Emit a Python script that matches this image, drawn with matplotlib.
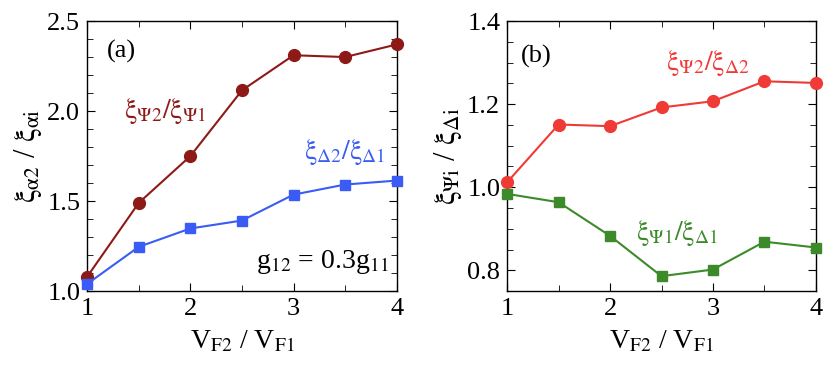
import matplotlib
matplotlib.use("Agg")
import matplotlib.pyplot as plt
from matplotlib.ticker import MultipleLocator, FormatStrFormatter

plt.rcParams["font.family"] = ["Liberation Serif", "DejaVu Serif"]
plt.rcParams["mathtext.fontset"] = "stix"

x = [1, 1.5, 2, 2.5, 3, 3.5, 4]

# panel (a)
psi2_psi1 = [1.08, 1.49, 1.75, 2.115, 2.31, 2.30, 2.37]
del2_del1 = [1.04, 1.246, 1.348, 1.392, 1.536, 1.592, 1.614]

# panel (b)
psi2_del2 = [1.012, 1.151, 1.147, 1.192, 1.207, 1.255, 1.251]
psi1_del1 = [0.984, 0.964, 0.883, 0.786, 0.802, 0.869, 0.855]

c_darkred = "#8e1a18"
c_blue = "#3a5cf5"
c_red = "#f03a36"
c_green = "#3c8a2a"

XI = r"\mathrm{\xi}"
AL = r"\mathrm{\alpha}"

fig = plt.figure(figsize=(8.3, 3.69), dpi=100)
ax1 = fig.add_axes([0.105, 0.211, 0.373, 0.732])
ax2 = fig.add_axes([0.611, 0.211, 0.372, 0.732])

ax1.plot(x, psi2_psi1, "-o", color=c_darkred, lw=1.5, ms=8.5, mec=c_darkred, clip_on=False, zorder=3)
ax1.plot(x, del2_del1, "-s", color=c_blue, lw=1.5, ms=7.5, mec=c_blue, clip_on=False, zorder=3)
ax1.set_xlim(1, 4)
ax1.set_ylim(1.0, 2.5)
ax1.yaxis.set_major_locator(MultipleLocator(0.5))
ax1.yaxis.set_minor_locator(MultipleLocator(0.1))
ax1.yaxis.set_major_formatter(FormatStrFormatter("%.1f"))
ax1.set_xlabel(r"V$_{\rm F2}$ / V$_{\rm F1}$", fontsize=20, labelpad=6)
ax1.set_ylabel(rf"${XI}_{{{AL} 2}}$ / ${XI}_{{{AL} \rm i}}$", fontsize=22, labelpad=2)
ax1.text(1.19, 2.33, "(a)", fontsize=19, va="center")
ax1.text(1.36, 2.0, rf"${XI}_{{\Psi 2}}/{XI}_{{\Psi 1}}$", color=c_darkred, fontsize=20, va="center")
ax1.text(3.1, 1.77, rf"${XI}_{{\Delta 2}}/{XI}_{{\Delta 1}}$", color=c_blue, fontsize=20, va="center")
ax1.text(3.92, 1.16, r"g$_{12}$ = 0.3g$_{11}$", fontsize=20, va="center", ha="right")

ax2.plot(x, psi2_del2, "-o", color=c_red, lw=1.5, ms=8.5, mec=c_red, clip_on=False, zorder=3)
ax2.plot(x, psi1_del1, "-s", color=c_green, lw=1.5, ms=7.5, mec=c_green, clip_on=False, zorder=3)
ax2.set_xlim(1, 4)
ax2.set_ylim(0.75, 1.4)
ax2.yaxis.set_major_locator(MultipleLocator(0.2))
ax2.yaxis.set_minor_locator(MultipleLocator(0.05))
ax2.yaxis.set_major_formatter(FormatStrFormatter("%.1f"))
ax2.set_xlabel(r"V$_{\rm F2}$ / V$_{\rm F1}$", fontsize=20, labelpad=6)
ax2.set_ylabel(rf"${XI}_{{\Psi \rm i}}$ / ${XI}_{{\Delta \rm i}}$", fontsize=22, labelpad=2)
ax2.text(1.13, 1.315, "(b)", fontsize=19, va="center")
ax2.text(2.54, 1.30, rf"${XI}_{{\Psi 2}}/{XI}_{{\Delta 2}}$", color=c_red, fontsize=20, va="center")
ax2.text(2.25, 0.89, rf"${XI}_{{\Psi 1}}/{XI}_{{\Delta 1}}$", color=c_green, fontsize=20, va="center")

for ax in (ax1, ax2):
    ax.xaxis.set_major_locator(MultipleLocator(1))
    ax.xaxis.set_minor_locator(MultipleLocator(0.5))
    ax.tick_params(which="both", direction="in", top=True, right=True, labelsize=19, pad=5)
    ax.tick_params(which="major", length=6)
    ax.tick_params(which="minor", length=4)
    for s in ax.spines.values():
        s.set_linewidth(1.0)

fig.savefig("out.png", dpi=100)
